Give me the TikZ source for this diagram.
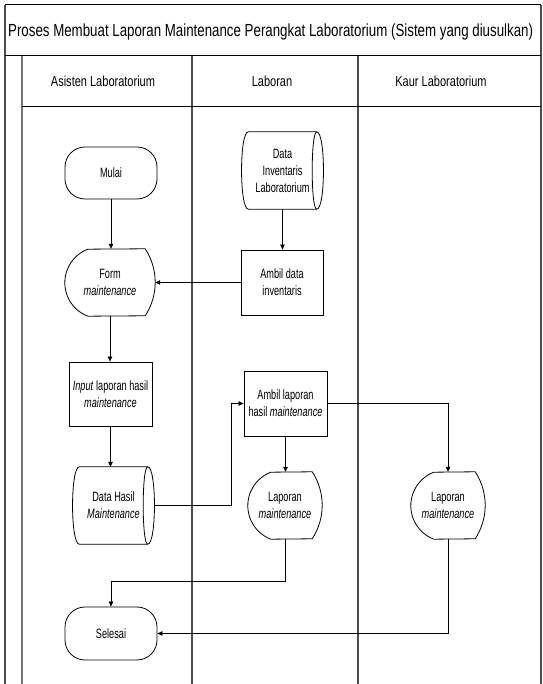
\documentclass[tikz,border=0pt]{standalone}
\usepackage{fontspec}
\setmainfont{Liberation Sans}[FakeStretch=0.76]
\newfontfamily\nodefont{Liberation Sans}[FakeStretch=0.68]
\usetikzlibrary{arrows.meta,calc}

\newcommand{\storedout}[1]{%
  \draw[shapeline] (#1.south west) .. controls +(-9,0) and +(-9,0) .. (#1.north west)
    -- (#1.north east) .. controls +(9,0) and +(9,0) .. (#1.south east) -- cycle;
  \draw[shapeline] (#1.north east) .. controls +(-6,0) and +(-6,0) .. (#1.south east);}
\newcommand{\displayout}[1]{%
  \draw[shapeline] ($(#1.south west)+(23,0)$) arc[start angle=248.94,end angle=111.06,radius=35.9]
    -- ($(#1.north east)+(-10,0)$) arc[start angle=33.24,end angle=-33.24,radius=61.11] -- cycle;}

\begin{document}
\begin{tikzpicture}[x=1pt,y=1pt,
  every node/.style={font=\nodefont\fontsize{13.5}{17}\selectfont, align=center, inner sep=1pt},
  shapeline/.style={draw=black, line width=0.8pt},
  lane/.style={draw=black!70, line width=1.6pt},
  hdr/.style={font=\fontsize{14.5}{17}\selectfont},
  terminal/.style={draw, line width=0.8pt, rounded corners=20pt, minimum width=92pt, minimum height=52pt},
  proc/.style={draw, line width=0.8pt, minimum width=83pt, minimum height=65pt},
  stored/.style={minimum width=68pt, minimum height=77pt},
  screen/.style={minimum width=74pt, minimum height=67pt},
  flow/.style={-{Triangle[length=5pt,width=4.5pt]}, line width=0.7pt}]
\useasboundingbox (0,0) rectangle (542,684);

% frame and lanes
\draw[lane] (5,0) -- (5,679);
\draw[lane, line width=1.1pt, draw=black!55] (22,0) -- (22,628);
\draw[lane] (192,0) -- (192,628);
\draw[lane] (358,0) -- (358,628);
\draw[lane] (541,0) -- (541,679);
\draw[line width=1pt] (5,679) -- (541,679);
\draw[line width=1pt] (5,628) -- (541,628);
\draw[line width=1pt] (22,577) -- (541,577);

\node[font=\fontsize{17.5}{20}\selectfont, anchor=west] (title) at (7,652)
  {Proses Membuat Laporan Maintenance Perangkat Laboratorium (Sistem yang diusulkan)};
\node[hdr] (h1) at (103,603) {Asisten Laboratorium};
\node[hdr] (h2) at (272,603) {Laboran};
\node[hdr] (h3) at (441,603) {Kaur Laboratorium};

% nodes
\node[terminal] (mulai) at (111,511) {Mulai};
\node[stored] (dinv) at (282.5,513.5) {Data\\Inventaris\\Laboratorium};
\node[screen, minimum width=90pt] (form) at (110,401.5) {Form\\\textit{maintenance}};
\node[proc, minimum width=82pt] (ambil1) at (282,401.5) {Ambil data\\inventaris};
\node[proc, minimum height=64pt] (input) at (110.5,290) {\textit{Input} laporan hasil\\\textit{maintenance}};
\node[proc] (ambil2) at (285.5,280.5) {Ambil laporan\\hasil \textit{maintenance}};
\node[stored] (dhasil) at (113.5,178.5) {Data Hasil\\\textit{Maintenance}};
\node[screen] (lap1) at (285,178.5) {Laporan\\\textit{maintenance}};
\node[screen] (lap2) at (448,178.5) {Laporan\\\textit{maintenance}};
\node[terminal, minimum height=53pt] (selesai) at (111,50.5) {Selesai};

\storedout{dinv}
\storedout{dhasil}
\displayout{form}
\displayout{lap1}
\displayout{lap2}

% connectors
\coordinate (dh-out) at ($(dhasil.east)+(6.75,0)$);
\draw[flow] (mulai.south) -- (mulai.south |- form.north);
\draw[flow] (dinv.south) -- (dinv.south |- ambil1.north);
\draw[flow] (ambil1) -- (form);
\draw[flow] (form.south) -- (form.south |- input.north);
\draw[flow] (input.south) -- (input.south |- dhasil.north);
\draw[flow] (dh-out) -- ++(77,0) |- (ambil2.west);
\draw[flow] (ambil2.south) -- (ambil2.south |- lap1.north);
\draw[flow] (ambil2.east) -| (lap2.north);
\draw[flow] (lap1.south) -- ++(0,-42) -| (selesai.north);
\draw[flow] (lap2.south) |- (selesai.east);
\end{tikzpicture}
\end{document}
